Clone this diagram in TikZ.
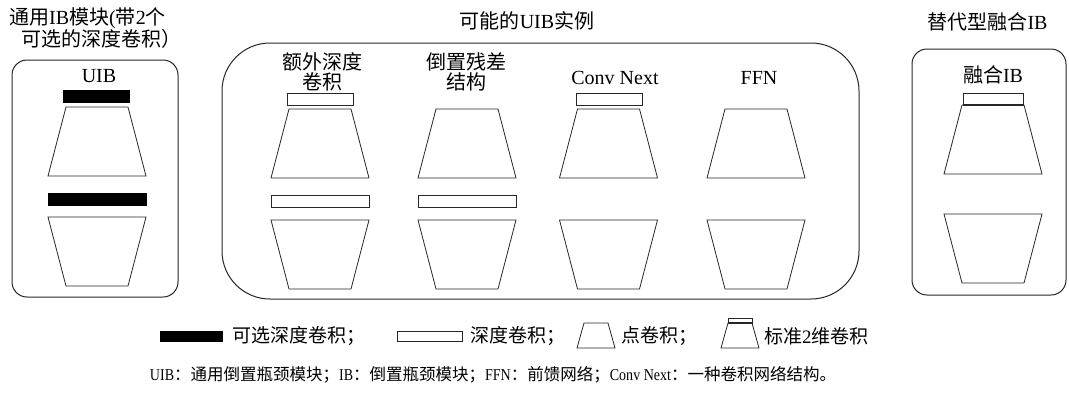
\documentclass[tikz,border=0pt]{standalone}
\usepackage{fontspec}
\setmainfont{Liberation Serif}
\newfontfamily\cjk{Noto Sans CJK SC}
\newfontfamily\cnd{Liberation Serif}[FakeStretch=0.85]
\newcommand\zh[1]{{\cjk #1}}
\begin{document}
\begin{tikzpicture}[x=1pt,y=-1pt,
  ln/.style={draw=black!85,line width=0.8pt},
  box/.style={ln,line width=1pt},
  lbl/.style={inner sep=0pt,font=\fontsize{20}{18}\selectfont,align=center},
  leg/.style={inner sep=0pt,font=\fontsize{19}{20}\selectfont,anchor=west},
  uptrap/.pic={\draw[ln] (-31,0) -- (31,0) -- (49,69) -- (-49,69) -- cycle;},
  dntrap/.pic={\draw[ln] (-49,0) -- (49,0) -- (31,69) -- (-31,69) -- cycle;},
  legtrap/.pic={\draw[ln] (-12,0) -- (12,0) -- (19,25) -- (-19,25) -- cycle;},
  blackbar/.style={fill=black,draw=black},
  hollowbar/.style={ln,fill=white}
]
\useasboundingbox (0,0) rectangle (1069,392);

% ---------- titles ----------
\node[inner sep=0pt,font=\fontsize{20}{22}\selectfont,align=left,anchor=west] (t1) at (9,28.5)
  {\zh{通用}IB\zh{模块}(\zh{带}2\zh{个}\\\hspace*{12pt}\zh{可选的深度卷积）}};
\node[lbl] (t2) at (527,21) {\zh{可能的}UIB\zh{实例}};
\node[lbl] (t3) at (987.5,22) {\zh{替代型融合}IB};

% ---------- boxes ----------
\draw[box,rounded corners=15] (12,60) rectangle (178,297);
\draw[box,rounded corners=48] (222,43) rectangle (859,299);
\draw[box,rounded corners=15] (912,49) rectangle (1066,295);

% ---------- left: UIB ----------
\node[lbl] (uib) at (99,76) {UIB};
\draw[blackbar] (63,90) rectangle (129,102);
\pic at (97,107) {uptrap};
\draw[blackbar] (48,193) rectangle (146,205);
\pic at (97,217) {dntrap};

% ---------- middle ----------
\node[lbl] (c1) at (322,72) {\zh{额外深度}\\\zh{卷积}};
\node[lbl] (c2) at (466,72) {\zh{倒置残差}\\\zh{结构}};
\node[lbl] (c3) at (615,78) {Conv Next};
\node[lbl] (c4) at (759,78) {FFN};

\draw[hollowbar] (287,93) rectangle (353,105);
\draw[hollowbar] (576,93) rectangle (642,105);

\foreach \cx in {320,467,608.5,756}{
  \pic at (\cx,109) {uptrap};
  \pic at (\cx,220) {dntrap};
}
\draw[hollowbar] (271,195) rectangle (369,207);
\draw[hollowbar] (418,195) rectangle (516,207);

% ---------- right: fused IB ----------
\node[lbl] (fib) at (993,75) {\zh{融合}IB};
\draw[ln] (963,93) rectangle (1023,105);
\draw[draw=black!85,line width=2pt] (963,104.5) -- (1023,104.5);
\pic at (993,105) {uptrap};
\pic at (993,214) {dntrap};

% ---------- legend ----------
\draw[blackbar] (160,331) rectangle (222,341);
\node[leg] (l1) at (232,336) {\zh{可选深度卷积；}};
\draw[hollowbar] (397,331) rectangle (462,341);
\node[leg] (l2) at (470,336) {\zh{深度卷积；}};
\pic at (596,323) {legtrap};
\node[leg] (l3) at (621,336) {\zh{点卷积；}};
\draw[ln] (728,318) rectangle (752,323);
\draw[draw=black!85,line width=1.6pt] (728,323) -- (752,323);
\pic at (740,323) {legtrap};
\node[leg] (l4) at (764,336) {\zh{标准}2\zh{维卷积}};

% ---------- footnote ----------
\node[inner sep=0pt,font=\fontsize{16.5}{18}\selectfont] (fn) at (493,375)
  {{\cnd UIB}\zh{：通用倒置瓶颈模块；}{\cnd IB}\zh{：倒置瓶颈模块；}{\cnd FFN}\zh{：前馈网络；}{\cnd Conv Next}\zh{：一种卷积网络结构。}};
\end{tikzpicture}
\end{document}
